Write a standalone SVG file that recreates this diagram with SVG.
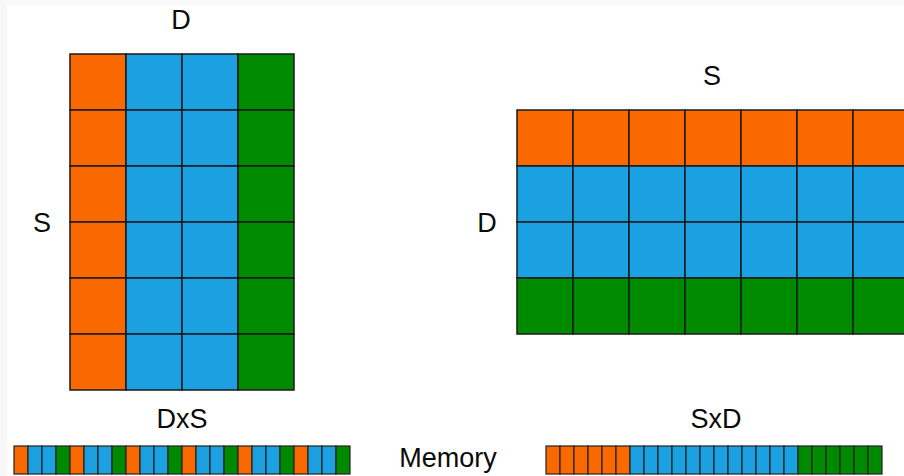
<svg xmlns="http://www.w3.org/2000/svg" width="904" height="476" viewBox="0 0 904 476">
  <style>
    .o { fill: #fa6800; }
    .b { fill: #1ba1e2; }
    .g { fill: #008a00; }
    .cell { stroke: #1a1a1a; stroke-width: 1.5; }
    .mem { stroke: #222; stroke-width: 1.2; }
    .lbl { font-family: "Liberation Sans", Arial, sans-serif; font-size: 27px; fill: #0a0a0a; text-anchor: middle; }
  </style>
  <defs>
    <!-- one tile per memory slot -->
    <rect id="m" width="14" height="28"/>
    <!-- one column of the DxS grid -->
    <g id="col">
      <rect class="cell" x="0" y="0" width="56" height="56"/>
      <rect class="cell" x="0" y="56" width="56" height="56"/>
      <rect class="cell" x="0" y="112" width="56" height="56"/>
      <rect class="cell" x="0" y="168" width="56" height="56"/>
      <rect class="cell" x="0" y="224" width="56" height="56"/>
      <rect class="cell" x="0" y="280" width="56" height="56"/>
    </g>
    <!-- one row of the SxD grid -->
    <g id="row">
      <rect class="cell" x="0" y="0" width="56" height="56"/>
      <rect class="cell" x="56" y="0" width="56" height="56"/>
      <rect class="cell" x="112" y="0" width="56" height="56"/>
      <rect class="cell" x="168" y="0" width="56" height="56"/>
      <rect class="cell" x="224" y="0" width="56" height="56"/>
      <rect class="cell" x="280" y="0" width="56" height="56"/>
      <rect class="cell" x="336" y="0" width="56" height="56"/>
    </g>
  </defs>

  <rect x="0" y="0" width="904" height="476" fill="#f8f8f8"/>
  <rect x="7" y="5" width="897" height="471" fill="#ffffff"/>

  <!-- DxS matrix: columns orange, blue, blue, green -->
  <g id="matrix-dxs">
    <use href="#col" x="70" y="54" class="o"/>
    <use href="#col" x="126" y="54" class="b"/>
    <use href="#col" x="182" y="54" class="b"/>
    <use href="#col" x="238" y="54" class="g"/>
    <text class="lbl" x="181" y="29">D</text>
    <text class="lbl" x="42" y="232">S</text>
    <text class="lbl" x="182" y="428">DxS</text>
  </g>

  <!-- SxD matrix: rows orange, blue, blue, green -->
  <g id="matrix-sxd">
    <use href="#row" x="517" y="110" class="o"/>
    <use href="#row" x="517" y="166" class="b"/>
    <use href="#row" x="517" y="222" class="b"/>
    <use href="#row" x="517" y="278" class="g"/>
    <text class="lbl" x="712" y="85">S</text>
    <text class="lbl" x="487" y="232">D</text>
    <text class="lbl" x="716" y="428">SxD</text>
  </g>

  <!-- memory layout of DxS: interleaved -->
  <g id="memory-dxs" class="mem">
    <use href="#m" x="14" y="446" class="o"/><use href="#m" x="28" y="446" class="b"/><use href="#m" x="42" y="446" class="b"/><use href="#m" x="56" y="446" class="g"/>
    <use href="#m" x="70" y="446" class="o"/><use href="#m" x="84" y="446" class="b"/><use href="#m" x="98" y="446" class="b"/><use href="#m" x="112" y="446" class="g"/>
    <use href="#m" x="126" y="446" class="o"/><use href="#m" x="140" y="446" class="b"/><use href="#m" x="154" y="446" class="b"/><use href="#m" x="168" y="446" class="g"/>
    <use href="#m" x="182" y="446" class="o"/><use href="#m" x="196" y="446" class="b"/><use href="#m" x="210" y="446" class="b"/><use href="#m" x="224" y="446" class="g"/>
    <use href="#m" x="238" y="446" class="o"/><use href="#m" x="252" y="446" class="b"/><use href="#m" x="266" y="446" class="b"/><use href="#m" x="280" y="446" class="g"/>
    <use href="#m" x="294" y="446" class="o"/><use href="#m" x="308" y="446" class="b"/><use href="#m" x="322" y="446" class="b"/><use href="#m" x="336" y="446" class="g"/>
  </g>

  <g id="memory-label">
    <text class="lbl" x="448" y="467">Memory</text>
  </g>

  <!-- memory layout of SxD: contiguous -->
  <g id="memory-sxd" class="mem">
    <use href="#m" x="546" y="446" class="o"/><use href="#m" x="560" y="446" class="o"/><use href="#m" x="574" y="446" class="o"/><use href="#m" x="588" y="446" class="o"/><use href="#m" x="602" y="446" class="o"/><use href="#m" x="616" y="446" class="o"/>
    <use href="#m" x="630" y="446" class="b"/><use href="#m" x="644" y="446" class="b"/><use href="#m" x="658" y="446" class="b"/><use href="#m" x="672" y="446" class="b"/><use href="#m" x="686" y="446" class="b"/><use href="#m" x="700" y="446" class="b"/>
    <use href="#m" x="714" y="446" class="b"/><use href="#m" x="728" y="446" class="b"/><use href="#m" x="742" y="446" class="b"/><use href="#m" x="756" y="446" class="b"/><use href="#m" x="770" y="446" class="b"/><use href="#m" x="784" y="446" class="b"/>
    <use href="#m" x="798" y="446" class="g"/><use href="#m" x="812" y="446" class="g"/><use href="#m" x="826" y="446" class="g"/><use href="#m" x="840" y="446" class="g"/><use href="#m" x="854" y="446" class="g"/><use href="#m" x="868" y="446" class="g"/>
  </g>
</svg>
